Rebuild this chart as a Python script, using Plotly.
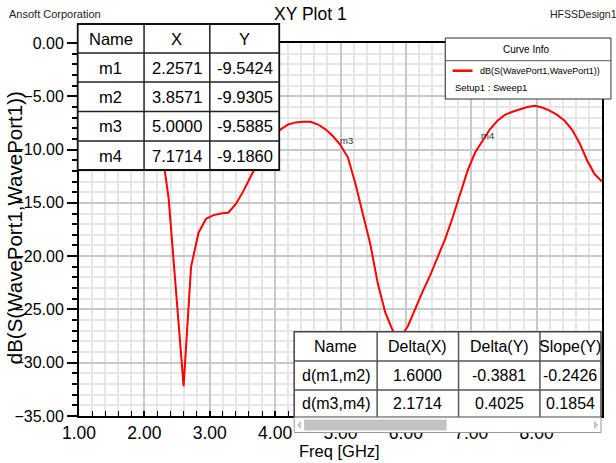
import plotly.graph_objects as go

# ---------------- data ----------------
freq_ghz = [1.0000, 1.1143, 1.2286, 1.3429, 1.4571, 1.5714, 1.6857, 1.8000, 1.9143, 2.0286,
            2.1429, 2.2571, 2.3714, 2.4857, 2.6000, 2.7143, 2.8286, 2.9429, 3.0571, 3.1714,
            3.2857, 3.4000, 3.5143, 3.6286, 3.7429, 3.8571, 3.9714, 4.0857, 4.2000, 4.3143,
            4.4286, 4.5429, 4.6571, 4.7714, 4.8857, 5.0000, 5.1143, 5.2286, 5.3429, 5.4571,
            5.5714, 5.6857, 5.8000, 5.9143, 6.0286, 6.1429, 6.2571, 6.3714, 6.4857, 6.6000,
            6.7143, 6.8286, 6.9429, 7.0571, 7.1714, 7.2857, 7.4000, 7.5143, 7.6286, 7.7429,
            7.8571, 7.9714, 8.0857, 8.2000, 8.3143, 8.4286, 8.5429, 8.6571, 8.7714, 8.8857,
            9.0000]
s11_db = [-3.5, -3.8, -4.2, -4.6, -5.1, -5.6, -6.2, -6.8, -7.5, -8.2,
          -8.9, -9.5424, -14.6, -23.5, -32.2, -21.0, -17.8, -16.5, -16.15, -16.0,
          -15.9, -15.1, -13.9, -12.5, -11.1, -9.9305, -8.8, -8.1, -7.65, -7.45,
          -7.38, -7.4, -7.65, -8.1, -8.75, -9.5885, -10.75, -13.2, -16.0, -18.9,
          -22.6, -25.3, -27.0, -27.6, -26.6, -24.9, -23.3, -21.8, -20.1, -18.4,
          -16.4, -14.1, -12.0, -10.3, -9.1860, -8.1, -7.3, -6.75, -6.45, -6.2,
          -6.0, -5.9, -6.05, -6.35, -6.75, -7.3, -8.15, -9.4, -11.0, -12.3,
          -13.0]

series_name = "dB(S(WavePort1,WavePort1))"
setup_name = "Setup1 : Sweep1"

marker_names = ["m1", "m2", "m3", "m4"]
marker_x = [2.2571, 3.8571, 5.0000, 7.1714]
marker_y = [-9.5424, -9.9305, -9.5885, -9.1860]
visible_marker_labels = ["m3", "m4"]

delta_names = ["d(m1,m2)", "d(m3,m4)"]
delta_x = [1.6000, 2.1714]
delta_y = [-0.3881, 0.4025]
slope_y = [-0.2426, 0.1854]

marker_headers = ["Name", "X", "Y"]
delta_headers = ["Name", "Delta(X)", "Delta(Y)", "Slope(Y)"]

# ---------------- layout geometry ----------------
FW, FH = 616, 463
L, R, T, B = 79, 604, 43, 416
PW, PH = R - L, B - T


def px(x):
    return (x - L) / PW


def py(y):
    return (B - y) / PH


NARROW = "Liberation Sans Narrow, Arial Narrow, Liberation Sans, Arial, sans-serif"
REG = "Liberation Sans, Arial, sans-serif"

fig = go.Figure()
fig.add_trace(go.Scatter(x=freq_ghz, y=s11_db, mode="lines",
                         line=dict(color="#ff0000", width=2),
                         showlegend=False, hoverinfo="skip"))

shapes = []
annotations = []


def rect(x0, y0, x1, y1, fill="white", color="black", width=1.5):
    shapes.append(dict(type="rect", xref="paper", yref="paper",
                       x0=px(x0), x1=px(x1), y0=py(y1), y1=py(y0),
                       fillcolor=fill, line=dict(color=color, width=width),
                       layer="above"))


def hline(x0, x1, y, color="black", width=1.5):
    shapes.append(dict(type="line", xref="paper", yref="paper",
                       x0=px(x0), x1=px(x1), y0=py(y), y1=py(y),
                       line=dict(color=color, width=width), layer="above"))


def vline(x, y0, y1, color="black", width=1.5):
    shapes.append(dict(type="line", xref="paper", yref="paper",
                       x0=px(x), x1=px(x), y0=py(y0), y1=py(y1),
                       line=dict(color=color, width=width), layer="above"))


def text(x, y, s, size, family=NARROW, anchor="center", color="black", angle=0):
    annotations.append(dict(xref="paper", yref="paper", x=px(x), y=py(y),
                            text=s, showarrow=False, xanchor=anchor, yanchor="middle",
                            textangle=angle,
                            font=dict(family=family, size=size, color=color)))


# ---- marker table (top-left) ----
mcols = [77.7, 144.3, 210.3, 280]
mrows = [24, 53, 82, 111.5, 141, 170]
rect(mcols[0], mrows[0], mcols[-1], mrows[-1], color="#111", width=1.8)
for c in mcols[1:-1]:
    vline(c, mrows[0], mrows[-1], color="#222")
for r in mrows[1:-1]:
    hline(mcols[0], mcols[-1], r, color="#222")
for j, h in enumerate(marker_headers):
    text((mcols[j] + mcols[j + 1]) / 2, (mrows[0] + mrows[1]) / 2, h, 16.5)
for i in range(len(marker_names)):
    yc = (mrows[i + 1] + mrows[i + 2]) / 2
    vals = [marker_names[i], f"{marker_x[i]:.4f}", f"{marker_y[i]:.4f}"]
    for j, v in enumerate(vals):
        text((mcols[j] + mcols[j + 1]) / 2, yc, v, 16.5)

# ---- delta table (bottom-right) ----
dcols = [295, 378.3, 460, 541.7, 603]
drows = [331.7, 361, 390, 417.3]
rect(dcols[0], drows[0], dcols[-1], drows[-1], color="#444", width=1.5)
for c in dcols[1:-1]:
    vline(c, drows[0], drows[-1], color="#555")
for r in drows[1:-1]:
    hline(dcols[0], dcols[-1], r, color="#555")
for j, h in enumerate(delta_headers):
    text((dcols[j] + dcols[j + 1]) / 2, (drows[0] + drows[1]) / 2, h, 16)
for i in range(len(delta_names)):
    yc = (drows[i + 1] + drows[i + 2]) / 2
    vals = [delta_names[i], f"{delta_x[i]:.4f}", f"{delta_y[i]:.4f}", f"{slope_y[i]:.4f}"]
    for j, v in enumerate(vals):
        text((dcols[j] + dcols[j + 1]) / 2, yc, v, 16)

# scrollbar
rect(295, 417.3, 603, 432.5, fill="white", color="#999", width=1)
shapes.append(dict(type="rect", xref="paper", yref="paper",
                   x0=px(305), x1=px(448), y0=py(430.5), y1=py(419.5),
                   fillcolor="#c3c3c3", line=dict(width=0), layer="above"))
shapes.append(dict(type="path", xref="paper", yref="paper",
                   path=f"M {px(302)} {py(420.5)} L {px(297.5)} {py(425)} L {px(302)} {py(429.5)} Z",
                   fillcolor="#c8c8c8", line=dict(width=0), layer="above"))
shapes.append(dict(type="path", xref="paper", yref="paper",
                   path=f"M {px(596)} {py(420.5)} L {px(600.5)} {py(425)} L {px(596)} {py(429.5)} Z",
                   fillcolor="#c8c8c8", line=dict(width=0), layer="above"))

# ---- curve info box ----
rect(446.7, 38, 613, 99, fill="white", color="#333", width=1)
hline(446.7, 613, 60.7, color="#555", width=1)
text(528, 49.5, "Curve Info", 10)
hline(454, 474, 70.7, color="#ff0000", width=2.5)
text(480, 71, series_name, 9, anchor="left")
text(454, 88, setup_name, 9.5, anchor="left")

# ---- page texts ----
text(311.5, 14, "XY Plot 1", 17.5)
text(7, 14, "Ansoft Corporation", 11, anchor="left", color="#222")
text(550, 14, "HFSSDesign1", 10.5, anchor="left", color="#222")
text(14, 228, series_name, 20.5, family=REG, angle=-90)
text(340, 451, "Freq [GHz]", 16.5)

# ---- marker labels ----
for name, mx, my in zip(marker_names, marker_x, marker_y):
    if name in visible_marker_labels:
        annotations.append(dict(xref="x", yref="y", x=mx, y=my, text=name,
                                showarrow=False, xanchor="left", yanchor="middle",
                                xshift=-3, yshift=5,
                                font=dict(family=NARROW, size=9.5, color="#333")))

fig.update_layout(
    width=FW, height=FH,
    margin=dict(l=L, r=FW - R, t=T, b=FH - B, pad=0),
    paper_bgcolor="white", plot_bgcolor="white",
    shapes=shapes, annotations=annotations,
    showlegend=False,
    xaxis=dict(range=[1, 9], dtick=1, tick0=1, tickformat=".2f",
               showline=True, mirror=True, linecolor="black", linewidth=2,
               ticks="inside", ticklen=5, tickcolor="black", tickwidth=1.5,
               showgrid=True, gridcolor="#c8c8c8", gridwidth=2, zeroline=False,
               tickfont=dict(family=NARROW, size=17.5, color="black"),
               minor=dict(dtick=0.2, ticks="inside", ticklen=5, tickcolor="black",
                          tickwidth=1, showgrid=True, gridcolor="#e6e6e6", gridwidth=1.5)),
    yaxis=dict(range=[-35, 0], dtick=5, tick0=0, tickformat=".2f",
               showline=True, mirror=True, linecolor="black", linewidth=2,
               ticks="outside", ticklen=10, tickcolor="black", tickwidth=2,
               showgrid=True, gridcolor="#c8c8c8", gridwidth=2, zeroline=False,
               tickfont=dict(family=NARROW, size=16, color="black"),
               minor=dict(dtick=1, ticks="outside", ticklen=5, tickcolor="black",
                          tickwidth=1.5, showgrid=True, gridcolor="#e6e6e6", gridwidth=1.5)),
)

fig.write_html("out.html")
